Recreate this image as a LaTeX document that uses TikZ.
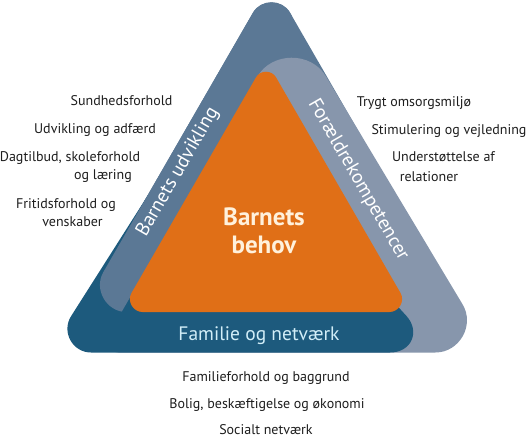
\documentclass[tikz,border=0pt]{standalone}
\usepackage{fontspec}
\setmainfont{PT Sans}
\usetikzlibrary{calc}
\definecolor{slate}{HTML}{5B7895}
\definecolor{greyb}{HTML}{8796AC}
\definecolor{dblue}{HTML}{1D5A7D}
\definecolor{orng}{HTML}{E06F17}
\definecolor{cream}{HTML}{FFF1DC}
\definecolor{lcyan}{HTML}{D2EEF8}
\definecolor{txt}{HTML}{1E1E1E}
\newcommand\rcorn[4]{-- ($(#2)!#4pt!(#1)$) .. controls ($(#2)!0.57*#4pt!(#1)$) and ($(#2)!0.57*#4pt!(#3)$) .. ($(#2)!#4pt!(#3)$)}
\begin{document}
\begin{tikzpicture}[x=1pt,y=-1pt,
  side/.style={font=\fontsize{14}{17}\selectfont, text=txt, inner sep=0pt, anchor=base},
  band/.style={font=\fontsize{19.5}{22}\selectfont, inner sep=0pt}]
\useasboundingbox (0,0) rectangle (527,438);
\fill[white] (0,0) rectangle (527,438);
% sharp vertices of the rounded shapes
\coordinate (DL) at (48,352.5); \coordinate (DR) at (440,352.5);
\coordinate (DP) at (300,200); \coordinate (DQ) at (183,140);
\coordinate (Sa) at (271.5,-19.4); \coordinate (Sl) at (80.3,312); \coordinate (Sr) at (462.7,312);
\coordinate (Ga) at (291,18); \coordinate (Gl) at (98.5,352.5); \coordinate (Gr) at (491.4,352.5);
\coordinate (Oa) at (266,60); \coordinate (Ol) at (120.5,312); \coordinate (Or) at (411.5,312);
\def\Dpath{($(DL)!0.5!(DR)$) \rcorn{DL}{DR}{DP}{50} -- (DP) -- (DQ) \rcorn{DQ}{DL}{DR}{43} -- cycle}
\def\Spath{($(Sl)!0.5!(Sr)$) \rcorn{Sl}{Sr}{Sa}{40} \rcorn{Sr}{Sa}{Sl}{37} \rcorn{Sa}{Sl}{Sr}{46} -- cycle}
\def\Gpath{($(Gl)!0.5!(Gr)$) \rcorn{Gl}{Gr}{Ga}{56} \rcorn{Gr}{Ga}{Gl}{68} \rcorn{Ga}{Gl}{Gr}{20} -- cycle}
\def\Opath{($(Ol)!0.5!(Or)$) \rcorn{Ol}{Or}{Oa}{22} \rcorn{Or}{Oa}{Ol}{20} \rcorn{Oa}{Ol}{Or}{22} -- cycle}
% Barnets udvikling (slate), Foraeldrekompetencer (grey), Familie og netvaerk (dark blue)
\fill[slate] \Spath;
\fill[greyb] \Gpath;
\fill[dblue] \Dpath;
% the slate band lies over the dark blue one on the left
\begin{scope}
\clip (-10,-60) -- (336.2,-60) -- (70.8,400) -- (-10,400) -- cycle;
\fill[slate] \Spath;
\end{scope}
% Barnets behov
\fill[orng] \Opath;
% band labels
\node[band, text=white, rotate=60] (bu) at (178,172) {Barnets udvikling};
\node[band, text=white, rotate=-60] (fk) at (358,180) {Forældrekompetencer};
\node[band, text=lcyan, anchor=base] (fn) at (259,340) {Familie og netværk};
\node[font=\bfseries\fontsize{25}{28}\selectfont, text=cream, align=center, inner sep=0pt] (bb) at (264,231) {Barnets\\behov};
% left labels
\node[side] (l1) at (121.5,106) {Sundhedsforhold};
\node[side] (l2) at (95,134) {Udvikling og adfærd};
\node[side] (l3) at (70,162) {Dagtilbud, skoleforhold};
\node[side] (l4) at (103,180) {og læring};
\node[side] (l5) at (66,209) {Fritidsforhold og};
\node[side] (l6) at (72.5,227) {venskaber};
% right labels
\node[side] (r1) at (414,107) {Trygt omsorgsmiljø};
\node[side] (r2) at (449,135) {Stimulering og vejledning};
\node[side] (r3) at (443.5,162) {Understøttelse af};
\node[side] (r4) at (429,182) {relationer};
% bottom labels
\node[side] (b1) at (266,381) {Familieforhold og baggrund};
\node[side] (b2) at (267,408) {Bolig, beskæftigelse og økonomi};
\node[side] (b3) at (266,434) {Socialt netværk};
\end{tikzpicture}
\end{document}
